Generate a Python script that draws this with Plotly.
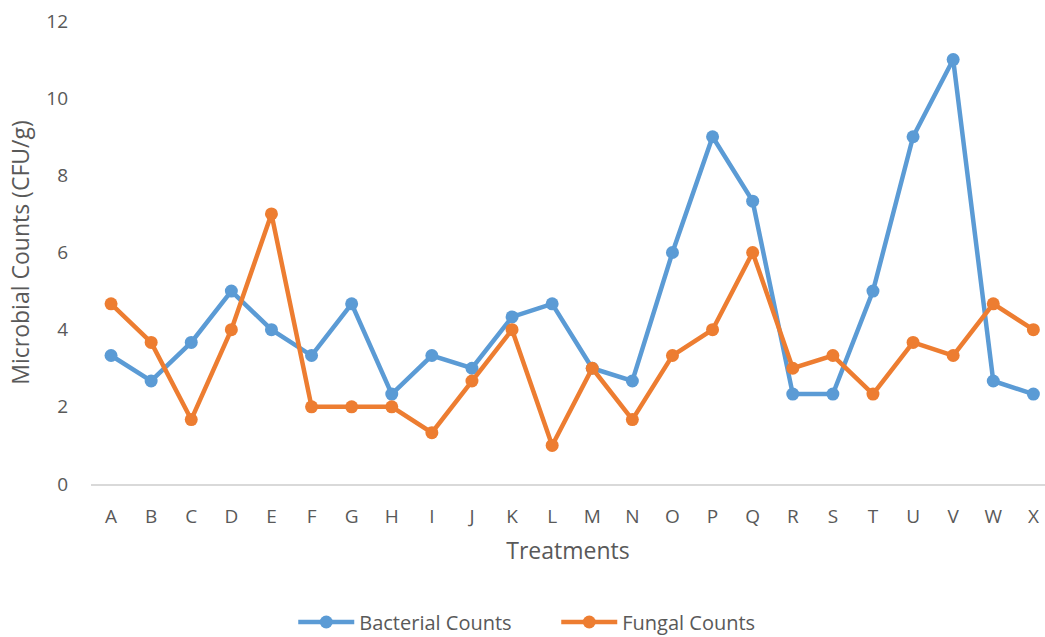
import plotly.graph_objects as go

treatments = list("ABCDEFGHIJKLMNOPQRSTUVWX")
bacterial = [3.33, 2.67, 3.67, 5.0, 4.0, 3.33, 4.67, 2.33, 3.33, 3.0, 4.33, 4.67,
             3.0, 2.67, 6.0, 9.0, 7.33, 2.33, 2.33, 5.0, 9.0, 11.0, 2.67, 2.33]
fungal = [4.67, 3.67, 1.67, 4.0, 7.0, 2.0, 2.0, 2.0, 1.33, 2.67, 4.0, 1.0,
          3.0, 1.67, 3.33, 4.0, 6.0, 3.0, 3.33, 2.33, 3.67, 3.33, 4.67, 4.0]
y_ticks = [0, 2, 4, 6, 8, 10, 12]

BLUE = "#5B9BD5"
ORANGE = "#ED7D31"
GREY_TEXT = "#595959"
FONT = "Open Sans"

fig = go.Figure()
fig.add_trace(go.Scatter(
    x=treatments, y=bacterial, name="Bacterial Counts", mode="lines+markers",
    line=dict(color=BLUE, width=4.5), marker=dict(color=BLUE, size=13),
))
fig.add_trace(go.Scatter(
    x=treatments, y=fungal, name="Fungal Counts", mode="lines+markers",
    line=dict(color=ORANGE, width=4.5), marker=dict(color=ORANGE, size=13),
))

fig.update_layout(
    width=1045, height=637,
    margin=dict(l=91, r=0, t=21, b=153, autoexpand=False),
    paper_bgcolor="white", plot_bgcolor="white",
    font=dict(family=FONT, color=GREY_TEXT, size=15),
    showlegend=True,
    legend=dict(orientation="h", x=0.212, xanchor="left", y=-0.298, yanchor="middle",
                font=dict(size=20, color=GREY_TEXT), itemwidth=56, entrywidth=192),
    xaxis=dict(
        type="category", range=[-0.5, 23.29], automargin=False,
        showgrid=False, showline=True, linecolor="#D9D9D9", linewidth=2,
        ticks="", tickfont=dict(size=19, color=GREY_TEXT), ticklabelstandoff=14,
        title=dict(text="Treatments", font=dict(size=23, color=GREY_TEXT), standoff=15),
        zeroline=False,
    ),
    yaxis=dict(
        range=[0, 12], tickvals=y_ticks, showgrid=False, showline=False, zeroline=False,
        automargin=False,
        ticks="", tickfont=dict(size=19, color=GREY_TEXT), ticklabelstandoff=22,
        title=dict(text="Microbial Counts (CFU/g)", font=dict(size=23, color=GREY_TEXT), standoff=10),
    ),
)

fig.write_html("out.html")
